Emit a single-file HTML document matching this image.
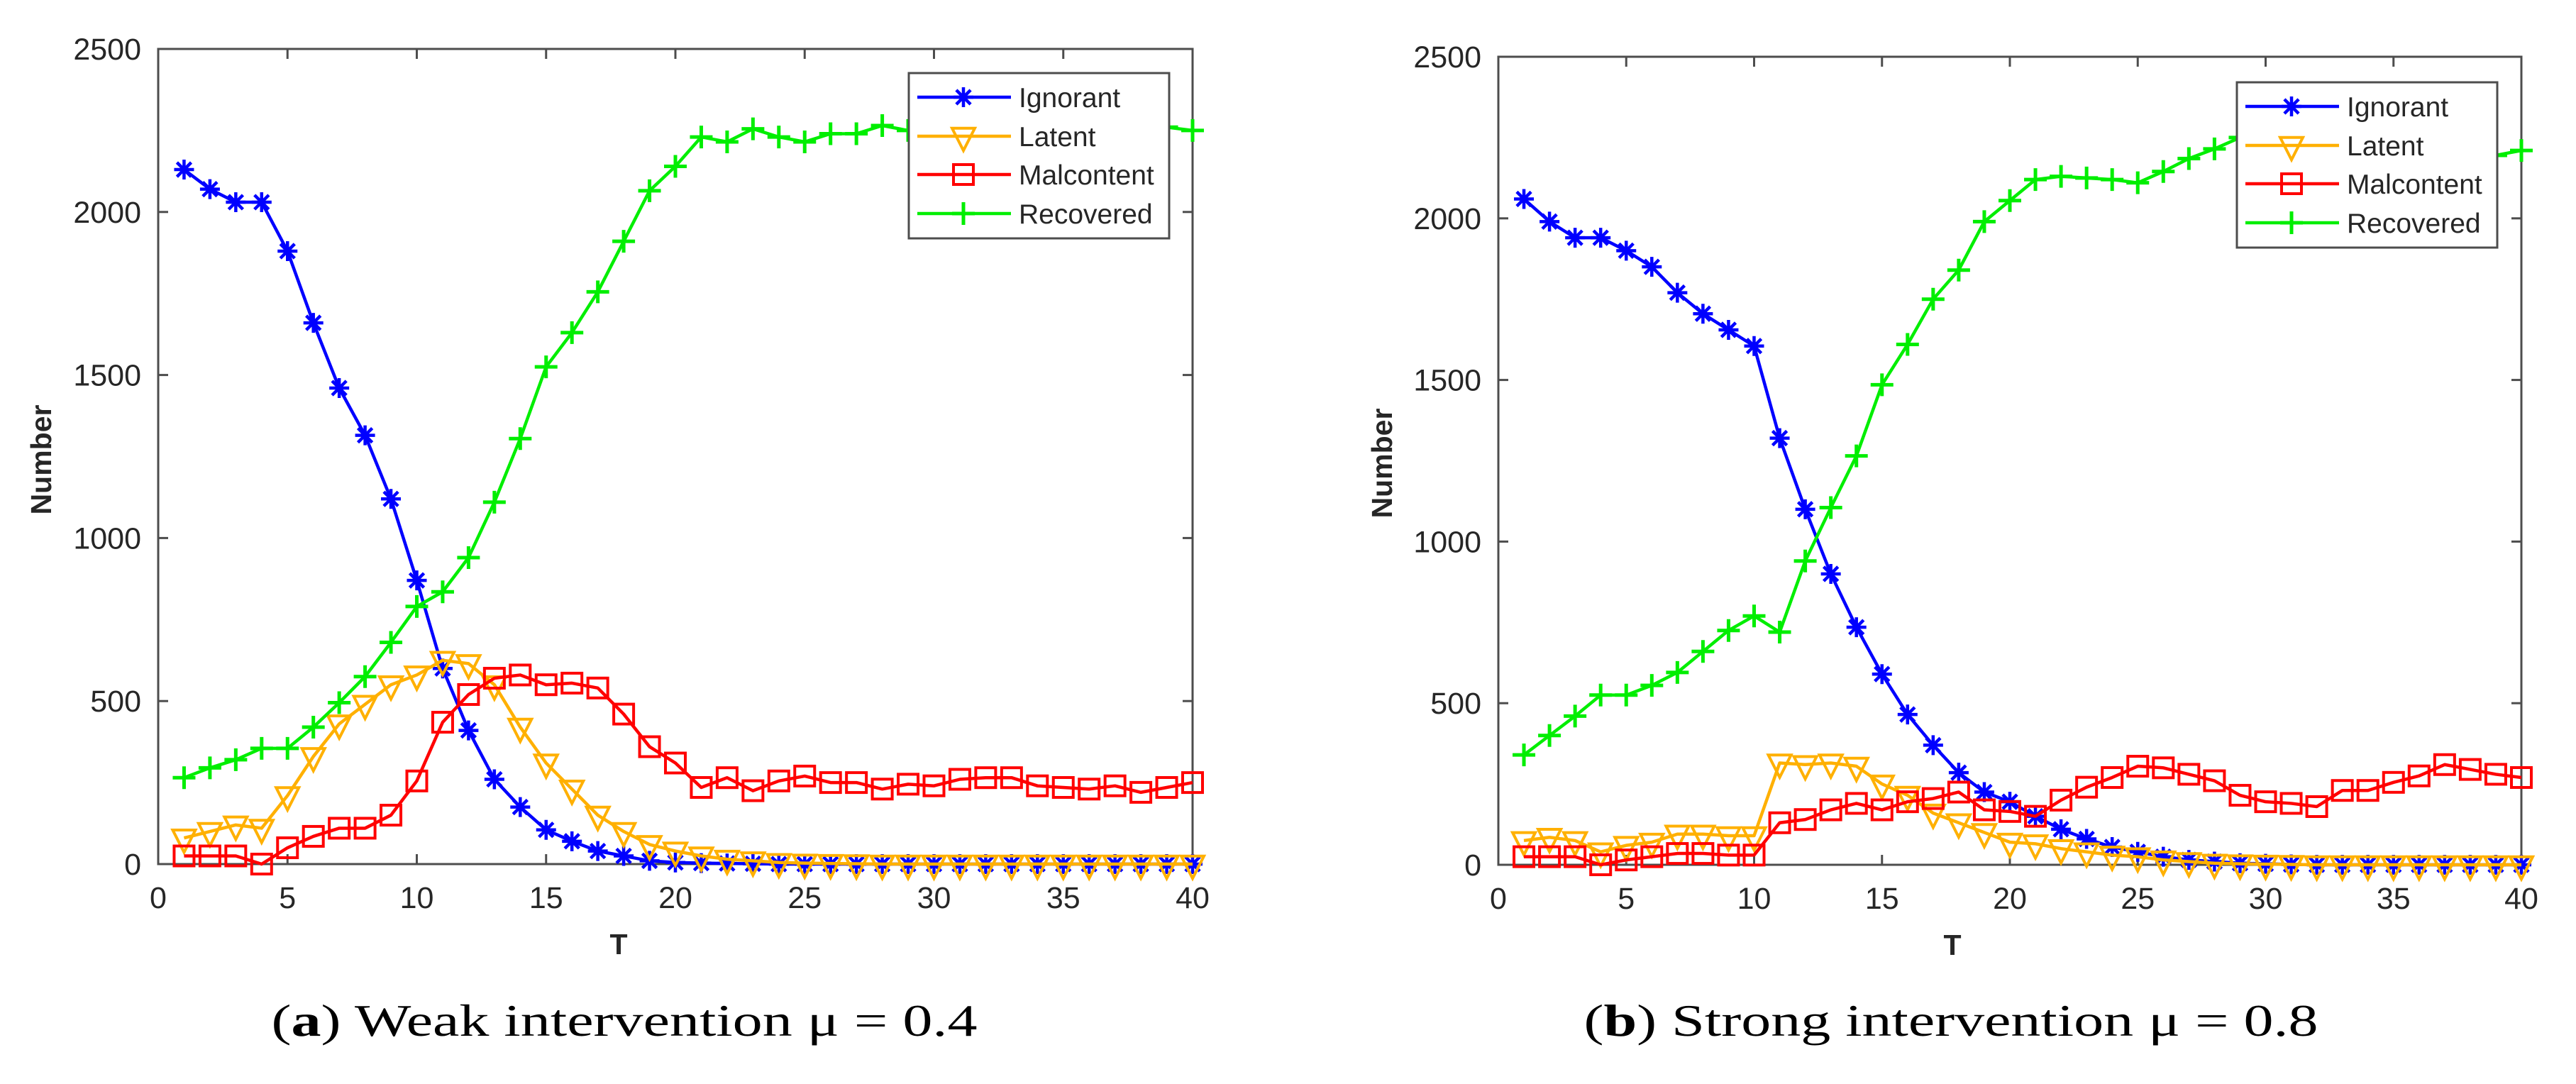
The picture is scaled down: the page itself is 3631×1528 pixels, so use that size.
<!DOCTYPE html>
<html><head><meta charset="utf-8">
<style>
html,body{margin:0;padding:0;background:#fff;}
svg{display:block;}
</style></head>
<body>
<svg id="fig" xmlns="http://www.w3.org/2000/svg" width="3631" height="1528" viewBox="0 0 3631 1528">
<rect x="0" y="0" width="3631" height="1528" fill="#fff"/>
</svg>
<script>
// ---- data ----
const T = Array.from({length:40},(_,i)=>i+1);
const xTicks = [0,5,10,15,20,25,30,35,40];
const yTicks = [0,500,1000,1500,2000,2500];
const seriesNames = ["Ignorant","Latent","Malcontent","Recovered"];

const weakIgnorant = [2130,2070,2030,2030,1880,1660,1460,1315,1120,870,600,410,260,175,105,70,40,25,10,5,3,2,1,0,0,0,0,0,0,0,0,0,0,0,0,0,0,0,0,0];
const weakLatent = [80,100,120,110,210,330,430,490,550,580,625,615,550,420,310,230,150,100,60,40,25,15,10,5,3,2,1,0,0,0,0,0,0,0,0,0,0,0,0,0];
const weakMalcontent = [25,25,25,0,50,85,110,110,150,255,435,520,570,580,550,555,540,460,360,310,235,265,225,255,270,250,250,230,245,240,260,265,265,240,235,230,240,220,235,250];
const weakRecovered = [265,295,320,355,355,420,495,575,680,790,835,940,1110,1305,1525,1630,1755,1910,2065,2140,2230,2215,2255,2230,2215,2240,2240,2265,2250,2255,2260,2255,2260,2265,2260,2255,2260,2270,2260,2250];

const strongIgnorant = [2060,1990,1940,1940,1900,1850,1770,1705,1655,1605,1320,1100,900,735,590,465,370,285,225,195,150,110,80,55,40,25,15,10,5,3,1,0,0,0,0,0,0,0,0,0];
const strongLatent = [75,85,75,40,60,70,95,95,90,90,315,310,315,305,250,215,160,130,100,70,65,50,40,30,25,15,10,5,3,2,1,0,0,0,0,0,0,0,0,0];
const strongMalcontent = [25,25,25,0,15,25,35,35,30,30,130,140,170,190,170,195,205,225,170,165,150,200,240,270,305,300,280,260,215,195,190,180,230,230,255,275,310,295,280,270];
const strongRecovered = [340,400,460,525,525,555,595,660,725,770,720,940,1105,1265,1485,1610,1750,1840,1990,2055,2120,2130,2125,2120,2110,2145,2185,2215,2250,2265,2270,2265,2260,2250,2240,2230,2220,2205,2195,2210];

const NS="http://www.w3.org/2000/svg";
const svg=document.getElementById('fig');
function mk(tag,attrs,parent){const e=document.createElementNS(NS,tag);for(const k in attrs)e.setAttribute(k,attrs[k]);(parent||svg).appendChild(e);return e;}

const colors={Ignorant:"#0000ff",Latent:"#ffb000",Malcontent:"#ff0000",Recovered:"#00ee00"};
const AX="#4d4d4d", TXT="#262626";

function marker(g,type,cx,cy,col){
  if(type==="Ignorant"){
    const r=14;
    const p=`M${cx-r} ${cy}L${cx+r} ${cy}M${cx} ${cy-r}L${cx} ${cy+r}M${cx-r*0.72} ${cy-r*0.72}L${cx+r*0.72} ${cy+r*0.72}M${cx-r*0.72} ${cy+r*0.72}L${cx+r*0.72} ${cy-r*0.72}`;
    mk('path',{d:p,stroke:col,'stroke-width':4.5,fill:'none'},g);
  } else if(type==="Latent"){
    const w=16,h=15;
    mk('path',{d:`M${cx-w} ${cy-h*0.75}L${cx+w} ${cy-h*0.75}L${cx} ${cy+h*1.35}Z`,stroke:col,'stroke-width':4,fill:'none'},g);
  } else if(type==="Malcontent"){
    const s=14;
    mk('rect',{x:cx-s,y:cy-s,width:2*s,height:2*s,stroke:col,'stroke-width':4,fill:'none'},g);
  } else {
    const r=16;
    mk('path',{d:`M${cx-r} ${cy}L${cx+r} ${cy}M${cx} ${cy-r}L${cx} ${cy+r}`,stroke:col,'stroke-width':5,fill:'none'},g);
  }
}

function panel(cfg){
  const {id,x0,x1,yTop,yBot,data,legend,ylab,tlab,caption}=cfg;
  const xs=v=>x0+(x1-x0)*v/40;
  const ys=v=>yBot-(yBot-yTop)*v/2500;
  const g=mk('g',{});
  
  
  // axes box
  const box=mk('rect',{x:x0,y:yTop,width:x1-x0,height:yBot-yTop,fill:'none',stroke:AX,'stroke-width':3},g);
  
  
  const tl=14;
  xTicks.forEach(v=>{
    const x=xs(v);
    mk('line',{x1:x,y1:yBot,x2:x,y2:yBot-tl,stroke:AX,'stroke-width':3},g);
    mk('line',{x1:x,y1:yTop,x2:x,y2:yTop+tl,stroke:AX,'stroke-width':3},g);
    const t=mk('text',{x:x,y:yBot+62,'text-anchor':'middle','font-family':'Liberation Sans, sans-serif','font-size':43,fill:TXT},g);
    t.textContent=v;
    
    
  });
  yTicks.forEach(v=>{
    const y=ys(v);
    mk('line',{x1:x0,y1:y,x2:x0+tl,y2:y,stroke:AX,'stroke-width':3},g);
    mk('line',{x1:x1,y1:y,x2:x1-tl,y2:y,stroke:AX,'stroke-width':3},g);
    const t=mk('text',{x:x0-24,y:y+15,'text-anchor':'end','font-family':'Liberation Sans, sans-serif','font-size':43,fill:TXT},g);
    t.textContent=v;
    
    
  });
  // series
  seriesNames.forEach((name,si)=>{
    const vals=data[si], col=colors[name];
    const sg=mk('g',{},g);
    
    
    const pts=T.map((t,i)=>xs(t)+','+ys(vals[i])).join(' ');
    mk('polyline',{points:pts,fill:'none',stroke:col,'stroke-width':4.5,'stroke-linejoin':'round'},sg);
    T.forEach((t,i)=>marker(sg,name,xs(t),ys(vals[i]),col));
  });
  // legend
  const lg=mk('g',{},g);
  
  
  mk('rect',{x:legend.x,y:legend.y,width:367,height:233,fill:'#fff',stroke:AX,'stroke-width':3},lg);
  const rowOff=[34,89,143,198];
  seriesNames.forEach((name,i)=>{
    const ry=legend.y+rowOff[i];
    const eg=mk('g',{},lg);
    
    
    mk('line',{x1:legend.x+12,y1:ry,x2:legend.x+144,y2:ry,stroke:colors[name],'stroke-width':4.5},eg);
    marker(eg,name,legend.x+77,ry,colors[name]);
    const t=mk('text',{x:legend.x+155,y:ry+14,'font-family':'Liberation Sans, sans-serif','font-size':39,fill:TXT},eg);
    t.textContent=name;
  });
  // labels
  const yl=mk('text',{x:ylab.x,y:ylab.y,'text-anchor':'middle','font-family':'Liberation Sans, sans-serif','font-size':41,'font-weight':'bold',fill:TXT,transform:`rotate(-90 ${ylab.x} ${ylab.y})`},g);
  yl.textContent="Number";
  
  
  const xl=mk('text',{x:tlab.x,y:tlab.y,'text-anchor':'middle','font-family':'Liberation Sans, sans-serif','font-size':41,'font-weight':'bold',fill:TXT},g);
  xl.textContent="T";
  
  
  const cap=mk('text',{x:caption.x,y:caption.y,'text-anchor':'middle','font-family':'Liberation Serif, serif','font-size':64,fill:'#000',textLength:caption.w,lengthAdjust:'spacingAndGlyphs'},g);
  
  
  const b=document.createElementNS(NS,'tspan');b.setAttribute('font-weight','bold');b.textContent=caption.letter;
  cap.appendChild(document.createTextNode('('));cap.appendChild(b);cap.appendChild(document.createTextNode(') '+caption.text));
}

panel({id:'weak',x0:223,x1:1681,yTop:69,yBot:1218,
  data:[weakIgnorant,weakLatent,weakMalcontent,weakRecovered],
  legend:{x:1281,y:103},ylab:{x:72,y:648},tlab:{x:872,y:1345},
  caption:{x:880,y:1460,w:995,letter:'a',text:'Weak intervention μ = 0.4'}});
panel({id:'strong',x0:2112,x1:3554,yTop:80,yBot:1219,
  data:[strongIgnorant,strongLatent,strongMalcontent,strongRecovered],
  legend:{x:3153,y:116},ylab:{x:1962,y:653},tlab:{x:2752,y:1346},
  caption:{x:2750,y:1460,w:1035,letter:'b',text:'Strong intervention μ = 0.8'}});
</script>
</body></html>
